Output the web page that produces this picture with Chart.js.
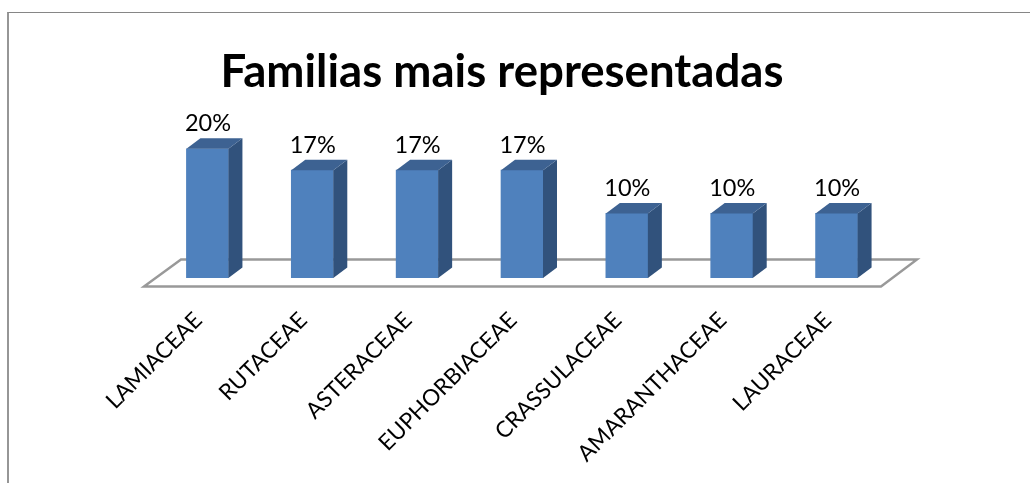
<!DOCTYPE html>
<html><head>
<title>Familias mais representadas</title>
<style>
  html, body { margin: 0; padding: 0; background: #fff; }
  #wrap { position: relative; width: 1030px; height: 483px; overflow: hidden; }
  #frame {
    position: absolute; left: 7px; top: 12px; width: 1030px; height: 480px;
    border-top: 1px solid #868686; border-left: 2px solid #969696;
  }
  #box { position: absolute; left: 0; top: 0; width: 1002px; height: 483px; }
</style>
<script src="https://cdn.jsdelivr.net/npm/chart.js"></script>
</head>
<body>
<div id="wrap">
  <div id="frame"></div>
  <div id="box"><canvas id="chart"></canvas></div>
</div>

<script>
const chartTitle = 'Familias mais representadas';
const families = ['LAMIACEAE', 'RUTACEAE', 'ASTERACEAE', 'EUPHORBIACEAE', 'CRASSULACEAE', 'AMARANTHACEAE', 'LAURACEAE'];
const shares = [20, 16.7, 16.7, 16.7, 10, 10, 10];

const fontName = 'Lato, "Open Sans", sans-serif';
const depthX = 14, depthY = 10.5;

// fake 3D: floor behind the bars, then side and top faces
const floor3d = {
  id: 'floor3d',
  beforeDatasetsDraw(chart) {
    const { ctx, chartArea: a, scales: { y } } = chart;
    const base = y.getPixelForValue(0);
    ctx.save();
    ctx.strokeStyle = '#999999';
    ctx.lineWidth = 2.4;
    ctx.beginPath();
    ctx.moveTo(a.left - 11, base + 8.5);
    ctx.lineTo(a.left + 26, base - 18.5);
    ctx.lineTo(a.right + 28, base - 18.5);
    ctx.lineTo(a.right - 8, base + 8.5);
    ctx.closePath();
    ctx.stroke();
    ctx.restore();
  },
  afterDatasetsDraw(chart) {
    const { ctx } = chart;
    const bars = chart.getDatasetMeta(0).data;
    ctx.save();
    bars.forEach((bar, i) => {
      const half = bar.width / 2;
      const l = bar.x - half, r = bar.x + half, t = bar.y, b = bar.base;
      ctx.fillStyle = '#31527c';
      ctx.beginPath();
      ctx.moveTo(r, t);
      ctx.lineTo(r + depthX, t - depthY);
      ctx.lineTo(r + depthX, b - depthY);
      ctx.lineTo(r, b);
      ctx.closePath();
      ctx.fill();
      ctx.fillStyle = '#3d6292';
      ctx.beginPath();
      ctx.moveTo(l, t);
      ctx.lineTo(l + depthX, t - depthY);
      ctx.lineTo(r + depthX, t - depthY);
      ctx.lineTo(r, t);
      ctx.closePath();
      ctx.fill();
      ctx.fillStyle = '#000';
      ctx.font = '23.5px ' + fontName;
      ctx.textAlign = 'center';
      ctx.textBaseline = 'alphabetic';
      ctx.fillText(Math.round(shares[i]) + '%', bar.x + 0.5, t - 17.5);
    });
    ctx.restore();
  }
};

new Chart(document.getElementById('chart'), {
  type: 'bar',
  data: {
    labels: families,
    datasets: [{
      data: shares,
      backgroundColor: '#4f81bd',
      barThickness: 42
    }]
  },
  options: {
    responsive: true,
    maintainAspectRatio: false,
    animation: false,
    layout: { padding: { top: 45, left: 115, right: 113, bottom: 0 } },
    plugins: {
      legend: { display: false },
      tooltip: { enabled: false },
      title: {
        display: true,
        text: chartTitle,
        color: '#000',
        font: { family: fontName, size: 45.6, weight: 'bold' },
        padding: { top: 0, bottom: 0 }
      }
    },
    scales: {
      x: {
        grid: { display: false },
        border: { display: false },
        // keep the bar baseline where it is, whatever the label length
        afterFit(s) { s.height = 205; },
        ticks: {
          color: '#000',
          font: { family: fontName, size: 22.5 },
          minRotation: 45,
          maxRotation: 45,
          padding: 21,
          labelOffset: -9,
          autoSkip: false
        }
      },
      y: {
        min: 0,
        max: 27.6,
        grid: { display: false },
        border: { display: false },
        ticks: { display: false },
        // empty gutter so the title sits left of the plot centre
        afterFit(s) { s.width = 40; }
      }
    }
  },
  plugins: [floor3d]
});
</script>
</body></html>
